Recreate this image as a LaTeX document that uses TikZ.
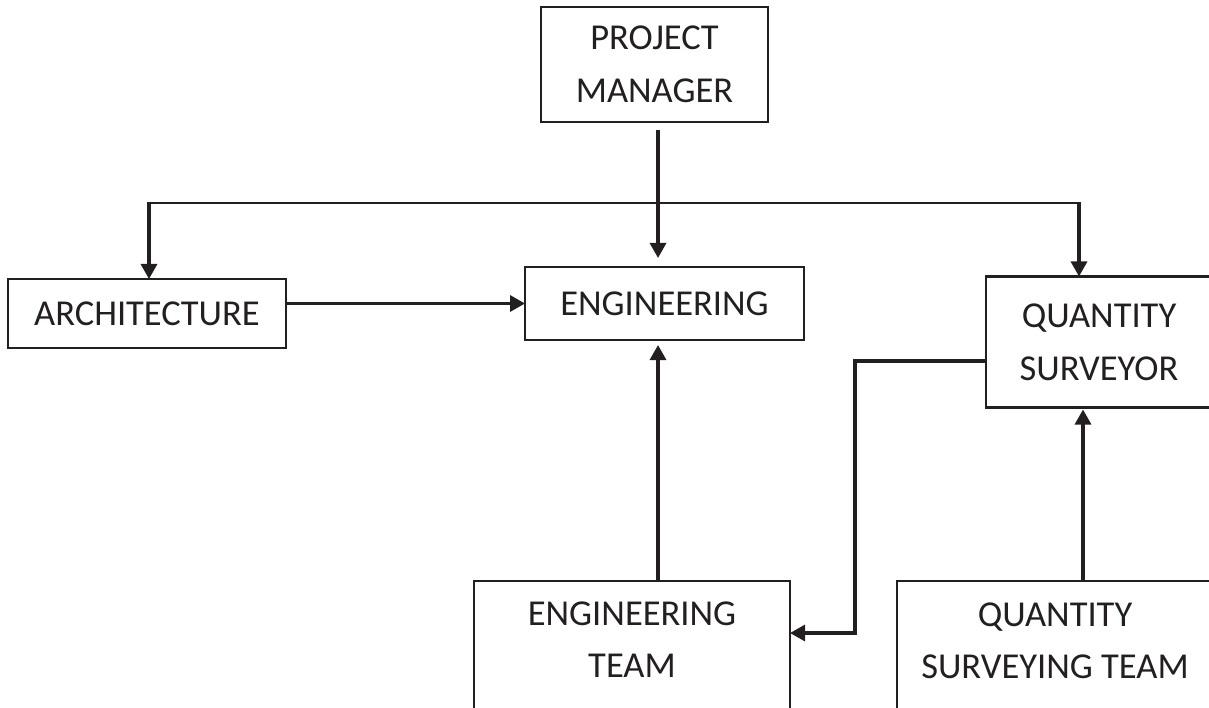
\documentclass[tikz,border=0pt]{standalone}
\usepackage{fontspec}
\setmainfont{Carlito}
\usetikzlibrary{arrows.meta}
\definecolor{ink}{RGB}{35,31,32}
\begin{document}
\begin{tikzpicture}[x=1pt,y=-1pt,
  box/.style={draw=ink, line width=2.2pt, rectangle, inner sep=0pt, outer sep=0pt,
              text=ink, align=center, font=\fontsize{36.5}{53}\selectfont},
  lbl/.style={text=ink, align=center, inner sep=0pt, font=\fontsize{36.5}{52}\selectfont},
  arr/.style={draw=ink, line width=3.2pt, line cap=butt,
              -{Triangle[length=15pt,width=16pt]}},
  branch/.style={draw=ink, line width=2.2pt}]
\useasboundingbox (0,0) rectangle (1209,708);
\clip (0,0) rectangle (1209,708);

% boxes
\node[box, minimum width=227pt, minimum height=115pt] (pm) at (654.5,64.5) {PROJECT\\MANAGER};
\node[box, minimum width=279pt, minimum height=73pt] (eng) at (664.5,303.5) {ENGINEERING};
\node[box, minimum width=278pt, minimum height=69pt] (arch) at (147,313.5) {ARCHITECTURE};
\node[box, minimum width=226pt, minimum height=131pt] (qs) at (1099,342) {QUANTITY\\SURVEYOR};

% lower boxes run past the bottom edge
\node[box, minimum width=316pt, minimum height=160pt, anchor=north west] (eteam) at (474,581) {};
\node[lbl] (eteamtxt) at ([yshift=-59pt]eteam.north) {ENGINEERING\\TEAM};
\node[box, minimum width=316pt, minimum height=160pt, anchor=north west] (qst) at (897,581) {};
\node[lbl] (qsttxt) at ([yshift=-60pt]qst.north) {QUANTITY\\SURVEYING TEAM};

% helper points
\coordinate (spine) at (658,0);
\coordinate (bl) at (149,203);
\coordinate (br) at (1079,203);
\coordinate (qsx) at (1083,0);
\coordinate (jq) at (855,361);
\coordinate (je) at (855,633);

% project manager down to engineering
\draw[arr] ([yshift=-8pt]pm.south -| spine) -- ([yshift=9pt]eng.north -| spine);

% branch to architecture and quantity surveyor
\draw[branch] (bl) -- (br);
\draw[arr] ([yshift=1pt]bl) -- (bl |- arch.north);
\draw[arr] ([yshift=1pt]br) -- (br |- qs.north);

% architecture to engineering
\draw[arr] (eng.west -| arch.east) -- (eng.west);

% engineering team up to engineering
\draw[arr] (eteam.north -| spine) -- ([yshift=-5pt]eng.south -| spine);

% quantity surveying team up to quantity surveyor
\draw[arr] (qst.north -| qsx) -- ([yshift=-2pt]qs.south -| qsx);

% quantity surveyor across to engineering team
\draw[arr] (qs.west |- jq) -- (jq) -- (je) -- (eteam.east |- je);
\end{tikzpicture}
\end{document}
